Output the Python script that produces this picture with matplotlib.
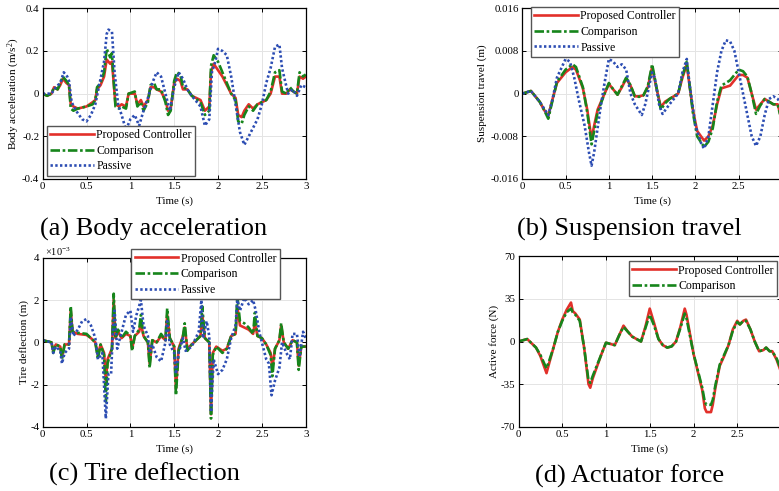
import matplotlib
matplotlib.use("Agg")
import matplotlib.pyplot as plt

plt.rcParams['font.family'] = ['Liberation Serif', 'DejaVu Serif']
plt.rcParams['mathtext.fontset'] = 'custom'
plt.rcParams['mathtext.rm'] = 'Liberation Serif'
plt.rcParams['mathtext.it'] = 'Liberation Serif:italic'
plt.rcParams['mathtext.default'] = 'regular'

# ---------------- data ----------------
x_ticks = [0, 0.5, 1, 1.5, 2, 2.5, 3]
x_tick_labels = ["0", "0.5", "1", "1.5", "2", "2.5", "3"]

# (a) body acceleration (m/s^2)
ta = [0, 0.05, 0.1, 0.13, 0.17, 0.2, 0.23, 0.27, 0.3, 0.32, 0.35, 0.4, 0.5, 0.57, 0.6, 0.62, 0.66, 0.7, 0.73, 0.77,
      0.79, 0.81, 0.83, 0.87, 0.9, 0.95, 0.98, 1.05, 1.08, 1.12, 1.15, 1.2, 1.23, 1.27, 1.3, 1.35, 1.4, 1.43, 1.46, 1.5,
      1.53, 1.57, 1.6, 1.65, 1.7, 1.8, 1.85, 1.9, 1.92, 1.95, 2.0, 2.05, 2.1, 2.15, 2.2, 2.23, 2.27, 2.3, 2.35, 2.4,
      2.45, 2.5, 2.55, 2.6, 2.65, 2.7, 2.73, 2.78, 2.82, 2.86, 2.9, 2.93, 2.97, 3.0]
acc_prop = [0, -0.01, 0, 0.03, 0.02, 0.04, 0.07, 0.05, 0.04, -0.05, -0.06, -0.07, -0.06, -0.04, -0.03, 0.02, 0.04, 0.08, 0.16, 0.14,
            0.15, 0.05, -0.05, -0.06, -0.05, -0.06, 0.0, 0.0, -0.05, -0.03, -0.06, -0.03, 0.03, 0.03, 0.02, 0.01, -0.03, -0.08, -0.07, 0.05,
            0.07, 0.06, 0.02, 0.02, -0.01, -0.03, -0.08, -0.06, 0.1, 0.14, 0.11, 0.08, 0.04, 0.0, -0.02, -0.1, -0.11, -0.08, -0.05, -0.07,
            -0.05, -0.04, -0.03, 0.0, 0.08, 0.08, 0.0, 0.0, 0.02, 0.01, 0.0, 0.08, 0.07, 0.08]
acc_comp = [0, -0.01, 0, 0.03, 0.02, 0.05, 0.08, 0.06, 0.04, -0.07, -0.08, -0.07, -0.06, -0.05, -0.03, 0.03, 0.05, 0.1, 0.21, 0.17,
            0.19, 0.06, -0.06, -0.07, -0.06, -0.07, 0.0, 0.01, -0.06, -0.04, -0.08, -0.04, 0.04, 0.05, 0.02, 0.02, -0.04, -0.1, -0.08, 0.06,
            0.1, 0.09, 0.03, 0.02, -0.01, -0.04, -0.1, -0.08, 0.13, 0.18, 0.15, 0.1, 0.05, 0.0, -0.03, -0.13, -0.14, -0.1, -0.06, -0.08,
            -0.05, -0.04, -0.03, 0.01, 0.1, 0.11, 0.01, 0.0, 0.03, 0.01, 0.0, 0.1, 0.08, 0.09]
ta_pas = [0, 0.1, 0.15, 0.2, 0.24, 0.28, 0.3, 0.33, 0.38, 0.45, 0.5, 0.55, 0.6, 0.65, 0.7, 0.73, 0.75, 0.79, 0.82, 0.86,
          0.9, 0.95, 1.0, 1.05, 1.1, 1.15, 1.2, 1.25, 1.3, 1.35, 1.4, 1.45, 1.5, 1.55, 1.6, 1.65, 1.7, 1.8, 1.85, 1.9,
          1.93, 1.97, 2.0, 2.05, 2.1, 2.15, 2.2, 2.25, 2.3, 2.35, 2.4, 2.45, 2.5, 2.55, 2.6, 2.65, 2.7, 2.73, 2.77, 2.8,
          2.85, 2.9, 2.95, 3.0]
acc_pas = [0, 0, 0.03, 0.05, 0.1, 0.08, 0.06, -0.04, -0.08, -0.12, -0.13, -0.1, -0.05, 0.05, 0.15, 0.28, 0.3, 0.29, 0.1, -0.05,
           -0.1, -0.17, -0.12, -0.1, -0.15, -0.08, -0.02, 0.05, 0.1, 0.08, 0.0, -0.08, 0.03, 0.1, 0.07, 0.02, -0.01, -0.06, -0.15, -0.12,
           0.1, 0.15, 0.21, 0.2, 0.18, 0.08, -0.05, -0.18, -0.24, -0.2, -0.16, -0.12, -0.05, 0.05, 0.12, 0.22, 0.23, 0.12, 0.05, 0.0,
           0.02, -0.01, 0.04, 0.03]

# (b) suspension travel (m)
tb = [0, 0.1, 0.2, 0.25, 0.3, 0.35, 0.4, 0.5, 0.58, 0.62, 0.7, 0.75, 0.8, 0.83, 0.87, 0.95, 1.0, 1.05, 1.1, 1.15,
      1.2, 1.25, 1.3, 1.35, 1.4, 1.45, 1.5, 1.55, 1.6, 1.65, 1.7, 1.8, 1.85, 1.9, 1.92, 1.97, 2.02, 2.1, 2.15, 2.2,
      2.25, 2.3, 2.4, 2.45, 2.5, 2.55, 2.6, 2.65, 2.7, 2.75, 2.8, 2.85, 2.9, 2.95, 3.0]
susp_prop = [0, 0.0005, -0.0015, -0.003, -0.0042, -0.001, 0.002, 0.004, 0.005, 0.0045, 0.001, -0.003, -0.0085, -0.006, -0.003, 0.0, 0.0018, 0.0008, -0.0002, 0.0012,
             0.0028, 0.0015, -0.0005, -0.0005, -0.0003, 0.0012, 0.005, 0.001, -0.0025, -0.0015, -0.001, 0.0, 0.003, 0.0055, 0.003, -0.003, -0.007, -0.0088, -0.008, -0.006,
             -0.002, 0.001, 0.0015, 0.0025, 0.0035, 0.0035, 0.003, 0.0, -0.003, -0.002, -0.001, -0.0015, -0.002, -0.002, -0.005]
susp_comp = [0, 0.0005, -0.0015, -0.003, -0.0047, -0.0012, 0.0022, 0.0045, 0.0055, 0.005, 0.0012, -0.0035, -0.0095, -0.007, -0.0035, 0.0, 0.002, 0.0008, -0.0002, 0.0014,
             0.003, 0.0016, -0.0005, -0.0006, -0.0003, 0.0014, 0.0055, 0.0012, -0.003, -0.0018, -0.001, 0.0, 0.0033, 0.006, 0.0033, -0.0035, -0.008, -0.0100, -0.009, -0.0065,
             -0.0015, 0.0015, 0.0025, 0.0035, 0.0045, 0.0042, 0.0032, 0.0, -0.0038, -0.0022, -0.001, -0.0015, -0.002, -0.002, -0.0055]
tb_pas = [0, 0.1, 0.2, 0.3, 0.35, 0.4, 0.5, 0.55, 0.6, 0.65, 0.72, 0.77, 0.8, 0.83, 0.9, 0.95, 1.0, 1.05, 1.1, 1.15,
          1.2, 1.25, 1.3, 1.38, 1.42, 1.5, 1.53, 1.58, 1.62, 1.7, 1.8, 1.85, 1.9, 1.93, 2.0, 2.07, 2.1, 2.15, 2.2, 2.25,
          2.3, 2.35, 2.4, 2.45, 2.5, 2.55, 2.6, 2.65, 2.7, 2.75, 2.8, 2.85, 2.9, 2.95, 3.0]
susp_pas = [0, 0.0005, -0.0015, -0.004, -0.001, 0.003, 0.0065, 0.006, 0.003, -0.001, -0.006, -0.011, -0.0135, -0.011, -0.003, 0.002, 0.0065, 0.006, 0.005, 0.0055,
            0.0045, 0.0, -0.002, -0.004, -0.002, 0.004, 0.003, -0.002, -0.0038, -0.002, 0.0, 0.004, 0.0065, 0.002, -0.006, -0.0095, -0.0103, -0.008, -0.002, 0.004,
            0.008, 0.010, 0.0098, 0.008, 0.004, 0.0, -0.004, -0.008, -0.0098, -0.008, -0.004, -0.001, -0.0005, -0.001, -0.002]

# (c) tire deflection (x1e-3 m)
tc = [0, 0.05, 0.1, 0.12, 0.15, 0.2, 0.22, 0.25, 0.3, 0.32, 0.34, 0.4, 0.5, 0.55, 0.6, 0.63, 0.66, 0.7, 0.72, 0.74,
      0.76, 0.79, 0.81, 0.83, 0.86, 0.9, 0.95, 1.0, 1.02, 1.05, 1.1, 1.12, 1.15, 1.2, 1.22, 1.25, 1.3, 1.35, 1.4, 1.42,
      1.45, 1.5, 1.52, 1.55, 1.6, 1.62, 1.65, 1.7, 1.8, 1.82, 1.85, 1.9, 1.92, 1.94, 1.98, 2.05, 2.1, 2.15, 2.2, 2.22,
      2.25, 2.3, 2.35, 2.4, 2.42, 2.45, 2.5, 2.55, 2.6, 2.62, 2.65, 2.7, 2.72, 2.75, 2.8, 2.85, 2.9, 2.92, 2.95, 3.0]
tire_prop = [0.1, 0.05, 0.0, -0.4, -0.1, -0.2, -0.7, -0.1, -0.1, 1.5, 0.5, 0.4, 0.35, 0.2, 0.0, -0.6, -0.1, -0.5, -1.8, -0.8,
             -0.6, -0.3, 2.0, 0.2, 0.5, 0.2, 0.4, 0.3, -0.3, 0.3, 0.5, 0.9, 0.3, 0.0, -1.0, 0.1, 0.0, 0.3, 0.1, 1.3,
             0.2, -0.2, -2.2, -0.3, 0.3, 0.7, -0.3, -0.1, 0.3, 1.3, 0.2, 0.0, -3.4, -0.5, -0.2, -0.4, -0.3, 0.3, 0.4, 1.7,
             0.8, 0.7, 0.6, 0.4, 0.9, 0.3, 0.2, -0.1, -0.5, -1.2, -0.3, 0.1, 0.8, 0.0, -0.3, 0.1, 0.0, -1.1, -0.2, -0.2]
tire_comp = [0.1, 0.05, 0.0, -0.5, -0.1, -0.2, -0.8, -0.1, -0.1, 1.7, 0.5, 0.45, 0.4, 0.2, 0.0, -0.8, -0.1, -0.6, -2.8, -1.0,
             -0.7, -0.3, 2.3, 0.2, 0.6, 0.2, 0.5, 0.3, -0.4, 0.3, 0.6, 1.3, 0.3, 0.0, -1.2, 0.1, 0.0, 0.4, 0.1, 1.6,
             0.2, -0.2, -2.5, -0.4, 0.3, 0.9, -0.4, -0.1, 0.3, 1.7, 0.2, 0.0, -3.6, -0.6, -0.2, -0.5, -0.3, 0.3, 0.4, 2.2,
             1.0, 0.9, 0.7, 0.4, 1.4, 0.3, 0.2, -0.1, -0.6, -1.6, -0.3, 0.1, 0.9, 0.0, -0.3, 0.1, 0.0, -1.3, -0.2, -0.2]
tc_pas = [0, 0.1, 0.12, 0.15, 0.2, 0.22, 0.25, 0.3, 0.32, 0.35, 0.4, 0.45, 0.5, 0.55, 0.6, 0.63, 0.68, 0.72, 0.75, 0.78,
          0.8, 0.82, 0.85, 0.9, 0.95, 1.0, 1.03, 1.07, 1.12, 1.15, 1.2, 1.22, 1.25, 1.3, 1.35, 1.4, 1.42, 1.45, 1.5, 1.52,
          1.55, 1.6, 1.63, 1.7, 1.78, 1.81, 1.83, 1.87, 1.9, 1.92, 1.95, 2.0, 2.05, 2.1, 2.15, 2.2, 2.22, 2.25, 2.3, 2.35,
          2.4, 2.43, 2.47, 2.5, 2.55, 2.58, 2.61, 2.65, 2.7, 2.73, 2.78, 2.82, 2.85, 2.9, 2.93, 2.97, 3.0]
tire_pas = [0.1, 0.0, -0.5, -0.2, -0.4, -1.0, -0.5, -0.3, 1.2, 0.3, 0.6, 1.0, 1.1, 0.8, 0.2, -0.8, -0.5, -3.6, -1.5, -1.5,
            0.5, 1.5, -0.3, 0.5, 1.3, 1.5, 0.5, 1.3, 2.0, 0.8, 0.3, -0.5, -0.1, -0.7, -0.9, 0.0, 1.0, -0.1, -0.5, -1.5,
            -0.5, 0.2, -0.4, -0.2, 0.5, 2.0, 0.2, 1.0, 0.3, -3.3, -0.8, -1.5, -1.3, -0.8, 0.2, 0.8, 2.0, 1.5, 2.1, 1.8,
            2.0, 1.5, 0.5, 0.0, -0.8, -1.0, -2.5, -1.8, -1.2, 0.0, -0.5, -0.8, 0.4, 0.4, -0.7, 0.5, 0.2]

# (d) actuator force (N)
td = [0, 0.1, 0.2, 0.25, 0.3, 0.32, 0.35, 0.4, 0.45, 0.5, 0.55, 0.6, 0.62, 0.65, 0.7, 0.75, 0.8, 0.82, 0.85, 0.9,
      0.95, 1.0, 1.05, 1.1, 1.15, 1.2, 1.25, 1.3, 1.35, 1.4, 1.45, 1.5, 1.55, 1.6, 1.65, 1.7, 1.75, 1.8, 1.85, 1.9,
      1.92, 2.0, 2.05, 2.1, 2.13, 2.15, 2.2, 2.22, 2.25, 2.3, 2.35, 2.4, 2.45, 2.5, 2.53, 2.57, 2.6, 2.65, 2.7, 2.75,
      2.8, 2.83, 2.87, 2.9, 2.95, 3.0]
force_prop = [0, 2, -5, -12, -22, -26, -18, -5, 8, 18, 26, 32, 25, 23, 18, -5, -35, -38, -30, -20,
              -10, -1, -2, -3, 5, 13, 8, 4, 2, 0, 12, 27, 15, 2, -3, -5, -4, 0, 12, 27,
              22, -10, -25, -40, -55, -58, -58, -52, -38, -20, -12, -3, 10, 17, 14, 17, 18, 10, 0, -8,
              -7, -5, -8, -8, -15, -25]
force_comp = [0, 2, -5, -11, -19, -22, -16, -5, 8, 17, 24, 27, 24, 22, 17, -5, -32, -34, -28, -19,
              -10, -1, -2, -3, 5, 12, 8, 4, 2, 0, 11, 22, 13, 2, -3, -5, -4, 0, 11, 23,
              19, -10, -24, -38, -50, -52, -52, -48, -36, -19, -11, -3, 9, 16, 14, 17, 17, 10, 0, -8,
              -7, -5, -8, -8, -14, -23]

# ---------------- style ----------------
RED = '#e2302a'
GREEN = '#16851b'
BLUE = '#2c4db3'
LW = 1.9
STY_PROP = dict(color=RED, lw=LW, ls='-')
STY_COMP = dict(color=GREEN, lw=LW, ls=(0, (3.6, 1.0, 1.0, 1.0)))
STY_PAS = dict(color=BLUE, lw=LW, ls=(0, (0.9, 0.9)))

W, H = 779, 491
fig = plt.figure(figsize=(W / 100, H / 100), dpi=100)


def px_axes(left, top, right, bottom):
    return fig.add_axes([left / W, 1 - bottom / H, (right - left) / W, (bottom - top) / H])


def style(ax, yticks, ylabels, ylabel, ylabelpad):
    ax.set_xlim(0, 3)
    ax.set_ylim(yticks[-1], yticks[0])
    ax.set_xticks(x_ticks)
    ax.set_xticklabels(x_tick_labels)
    ax.set_yticks(yticks)
    ax.set_yticklabels(ylabels)
    ax.tick_params(direction='in', length=3, width=0.7, top=True, right=True,
                   labelsize=7.8, pad=2.5, colors='black')
    ax.grid(True, color='#e4e4e4', lw=0.7)
    ax.set_axisbelow(True)
    for s in ax.spines.values():
        s.set_linewidth(0.9)
        s.set_color('black')
    ax.set_xlabel('Time (s)', fontsize=7.8, labelpad=3.5)
    ax.set_ylabel(ylabel, fontsize=8, labelpad=ylabelpad)


def legend(ax, anchor, loc='upper left'):
    leg = ax.legend(loc=loc, bbox_to_anchor=anchor, borderaxespad=0, fontsize=8.5,
                    handlelength=3.7, handletextpad=0.2, labelspacing=0.3, borderpad=0.3,
                    fancybox=False, framealpha=1, edgecolor='#555555')
    leg.get_frame().set_linewidth(1.0)
    return leg


# (a)
ax1 = px_axes(42.7, 8.3, 305.7, 179)
ax1.plot(ta, acc_prop, label='Proposed Controller', **STY_PROP)
ax1.plot(ta, acc_comp, label='Comparison', **STY_COMP)
ax1.plot(ta_pas, acc_pas, label='Passive', **STY_PAS)
style(ax1, [0.4, 0.2, 0, -0.2, -0.4], ["0.4", "0.2", "0", "-0.2", "-0.4"],
      r'Body acceleration (m/s$^{2}$)', 0)
legend(ax1, (0.015, 0.018), loc='lower left')

# (b)
ax2 = px_axes(522.3, 8.3, 782, 179)
ax2.plot(tb, susp_prop, label='Proposed Controller', **STY_PROP)
ax2.plot(tb, susp_comp, label='Comparison', **STY_COMP)
ax2.plot(tb_pas, susp_pas, label='Passive', **STY_PAS)
style(ax2, [0.016, 0.008, 0, -0.008, -0.016], ["0.016", "0.008", "0", "-0.008", "-0.016"],
      'Suspension travel (m)', 3)
legend(ax2, (0.032, 1.008))

# (c)
ax3 = px_axes(42.7, 257.7, 305.7, 427)
ax3.plot(tc, tire_prop, label='Proposed Controller', **STY_PROP)
ax3.plot(tc, tire_comp, label='Comparison', **STY_COMP)
ax3.plot(tc_pas, tire_pas, label='Passive', **STY_PAS)
style(ax3, [4, 2, 0, -2, -4], ["4", "2", "0", "-2", "-4"], 'Tire deflection (m)', 1)
ax3.text(0.01, 1.0, r'$\times$10$^{-3}$', transform=ax3.transAxes, fontsize=7.5, va='bottom', ha='left')
legend(ax3, (0.336, 1.051))

# (d)
ax4 = px_axes(518.5, 256.3, 781, 426.7)
ax4.plot(td, force_prop, label='Proposed Controller', **STY_PROP)
ax4.plot(td, force_comp, label='Comparison', **STY_COMP)
style(ax4, [70, 35, 0, -35, -70], ["70", "35", "0", "-35", "-70"], 'Active force (N)', 1)
legend(ax4, (0.42, 0.972))

# captions
fig.text(153.5 / W, 1 - 229 / H, '(a) Body acceleration', fontsize=19, ha='center', va='center')
fig.text(629.5 / W, 1 - 229 / H, '(b) Suspension travel', fontsize=19, ha='center', va='center')
fig.text(144.5 / W, 1 - 474 / H, '(c) Tire deflection', fontsize=19, ha='center', va='center')
fig.text(629.5 / W, 1 - 476 / H, '(d) Actuator force', fontsize=19, ha='center', va='center')

fig.savefig('out.png', dpi=100)
